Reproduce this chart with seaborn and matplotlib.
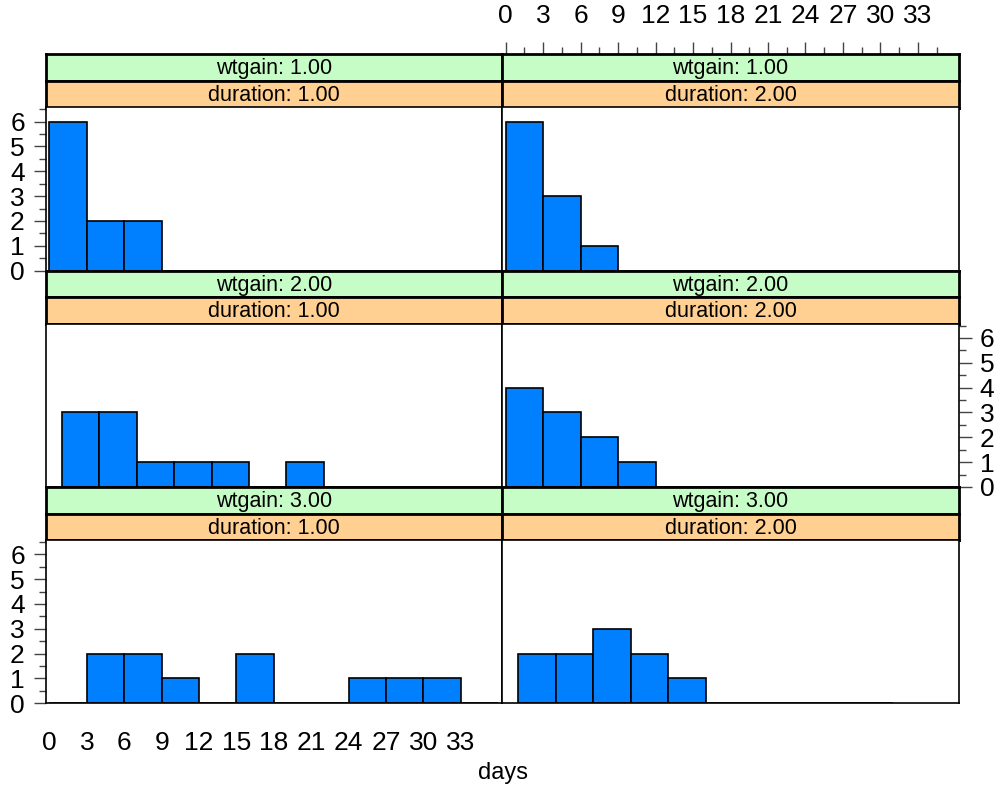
import matplotlib.pyplot as plt
import seaborn as sns

# Panel labels (row-major: top-left, top-right, middle-left, ...)
wtgain = ["1.00", "1.00", "2.00", "2.00", "3.00", "3.00"]
duration = ["1.00", "2.00", "1.00", "2.00", "1.00", "2.00"]

# Histogram counts per panel, bins of width 3 starting at bin_start
bin_width = 3
bin_start = [0, 0, 1, 0, 0, 1]
counts = [
    [6, 2, 2],
    [6, 3, 1],
    [3, 3, 1, 1, 1, 0, 1, 0, 0, 0],
    [4, 3, 2, 1, 0, 0, 0, 0, 0, 0],
    [0, 2, 2, 1, 0, 2, 0, 0, 1, 1, 1, 0],
    [2, 2, 3, 2, 1, 0, 0, 0, 0, 0],
]

x_major = list(range(0, 34, 3))
x_minor = [1.5 + 3 * i for i in range(12)]
y_major = [0, 1, 2, 3, 4, 5, 6]
y_minor = [0.5, 1.5, 2.5, 3.5, 4.5, 5.5, 6.5]

sns.set_style("white")
plt.rcParams["font.family"] = ["Liberation Sans", "DejaVu Sans"]
plt.rcParams["text.color"] = "black"
plt.rcParams["xtick.labelcolor"] = "black"
plt.rcParams["ytick.labelcolor"] = "black"

W, H = 997, 789
fig = plt.figure(figsize=(W / 100, H / 100), dpi=100)


def rect(x0, y0, x1, y1):
    return [x0 / W, 1 - y1 / H, (x1 - x0) / W, (y1 - y0) / H]


left, mid, right = 45.7, 502.0, 959.0
top, bottom = 54.3, 703.3
row_h = (bottom - top) / 3
strip_h = 26.6
xlim = (-0.3, 36.3)
ylim = (0, 6.57)
bar_color = "#0080FF"
green = "#C6FCC6"
orange = "#FFD091"
tick_col = "#444444"
tick_size = 19

for i in range(6):
    r, c = divmod(i, 2)
    x0 = left if c == 0 else mid
    x1 = mid if c == 0 else right
    y0 = top + r * row_h

    # strips
    strips = []
    for k, (txt, col) in enumerate([(f"wtgain: {wtgain[i]}", green),
                                     (f"duration: {duration[i]}", orange)]):
        sax = fig.add_axes(rect(x0, y0 + k * strip_h, x1, y0 + (k + 1) * strip_h))
        sax.set_facecolor(col)
        sax.set_xlim(xlim)
        sax.set_xticks([])
        sax.set_yticks([])
        for s in sax.spines.values():
            s.set_visible(True)
            s.set_linewidth(2)
            s.set_color("black")
        sax.text(0.5, 0.45, txt, transform=sax.transAxes, ha="center",
                 va="center", fontsize=15.5, color="black")
        strips.append(sax)

    # panel
    ax = fig.add_axes(rect(x0, y0 + 2 * strip_h, x1, y0 + row_h))
    starts = [bin_start[i] + bin_width * j for j in range(len(counts[i]))]
    centers = [s + bin_width / 2 for s in starts]
    edges = starts + [starts[-1] + bin_width]
    sns.histplot(x=centers, weights=counts[i], bins=edges, ax=ax,
                 color=bar_color, edgecolor="black", linewidth=1.2, alpha=1)
    ax.set_xlim(xlim)
    ax.set_ylim(ylim)
    ax.set_xlabel("")
    ax.set_ylabel("")
    ax.set_xticks([])
    ax.set_yticks([])
    for s in ax.spines.values():
        s.set_visible(True)
        s.set_linewidth(1.2)
        s.set_color("black")

    # y axis: left on rows 1 and 3, right on row 2
    if (r in (0, 2) and c == 0) or (r == 1 and c == 1):
        ax.set_yticks(y_major)
        ax.set_yticks(y_minor, minor=True)
        if r == 1:
            ax.yaxis.tick_right()
        else:
            ax.yaxis.tick_left()
        ax.tick_params(axis="y", which="major", length=9, width=1,
                       color=tick_col, labelsize=tick_size, pad=6)
        ax.tick_params(axis="y", which="minor", length=5, width=1,
                       color=tick_col)

    # x axis: bottom on left column, top on right column
    if r == 2 and c == 0:
        ax.set_xticks(x_major)
        ax.set_xticks(x_minor, minor=True)
        ax.tick_params(axis="x", which="major", length=9, width=1,
                       color=tick_col, labelsize=tick_size, pad=11)
        ax.tick_params(axis="x", which="minor", length=5, width=1,
                       color=tick_col)
    if r == 0 and c == 1:
        sax = strips[0]
        sax.set_xticks(x_major)
        sax.set_xticks(x_minor, minor=True)
        sax.xaxis.tick_top()
        sax.tick_params(axis="x", which="major", length=9, width=1,
                        color=tick_col, labelsize=tick_size, pad=10)
        sax.tick_params(axis="x", which="minor", length=5, width=1,
                        color=tick_col)

fig.text(502.5 / W, 1 - 773 / H, "days", ha="center", va="center",
         fontsize=17)

fig.savefig("out.png", dpi=100)
